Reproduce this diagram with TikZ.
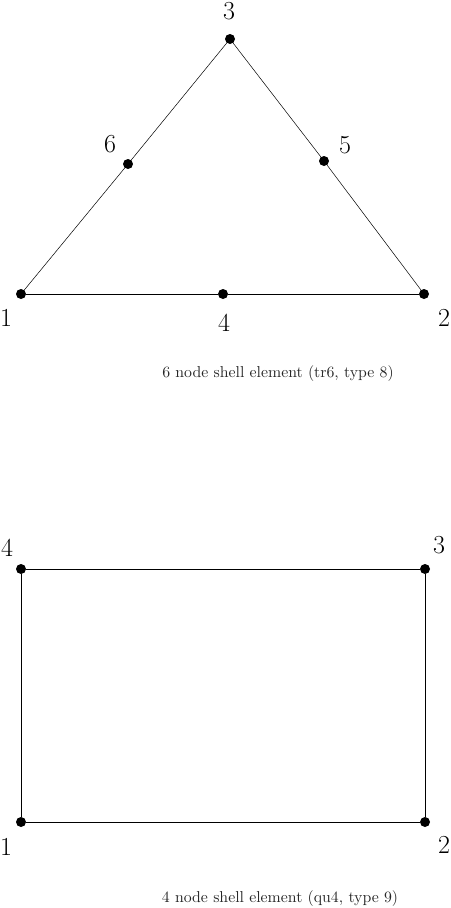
\documentclass[tikz,border=0pt]{standalone}
\usepackage{tikz}
\usepackage{graphicx}
\usetikzlibrary{shapes,arrows}
\tikzstyle{dot} = [circle, fill=black, inner sep=0pt, minimum size=10pt]
\tikzstyle{num} = [font=\fontsize{26}{26}\selectfont, inner sep=0pt]
\tikzstyle{caption} = [font=\fontsize{10}{12}\selectfont, text=black!85, inner sep=0pt]
\tikzstyle{line} = [draw, line width=0.9pt]
\tikzstyle{side} = [draw, line width=0.5pt]
\newcommand{\captext}[1]{\scalebox{1.58}{#1}}
\begin{document}
\begin{tikzpicture}[x=1pt, y=-1pt]
      \useasboundingbox (0,0) rectangle (450,908);
      % tr6 element
      \node [dot] (t1) at (21,294) {};
      \node [dot] (t2) at (424,294) {};
      \node [dot] (t3) at (230,39) {};
      \node [dot] (t4) at (223,294) {};
      \node [dot] (t5) at (324,161) {};
      \node [dot] (t6) at (128,164) {};

      \node [num] (lt1) at (6,318) {1};
      \node [num] (lt2) at (444,318) {2};
      \node [num] (lt3) at (229,11) {3};
      \node [num] (lt4) at (224,323) {4};
      \node [num] (lt5) at (345,145) {5};
      \node [num] (lt6) at (110,144) {6};
      \node [caption] (tcap) at (278,374) {\captext{6 node shell element (tr6, type 8)}};

      \path [line] (t1) -- (t4);
      \path [line] (t4) -- (t2);
      \path [side] (t2) -- (t5);
      \path [side] (t5) -- (t3);
      \path [side] (t3) -- (t6);
      \path [side] (t6) -- (t1);

      % qu4 element
      \node [dot] (q1) at (21,822) {};
      \node [dot] (q2) at (425,822) {};
      \node [dot] (q3) at (425,569) {};
      \node [dot] (q4) at (21,569) {};

      \node [num] (lq1) at (6,847) {1};
      \node [num] (lq2) at (444,845) {2};
      \node [num] (lq3) at (439,545) {3};
      \node [num] (lq4) at (7,548) {4};
      \node [caption] (qcap) at (280,899) {\captext{4 node shell element (qu4, type 9)}};

      \path [line] (q1) -- (q2);
      \path [line] (q2) -- (q3);
      \path [line] (q3) -- (q4);
      \path [line] (q4) -- (q1);
    \end{tikzpicture}
\end{document}
